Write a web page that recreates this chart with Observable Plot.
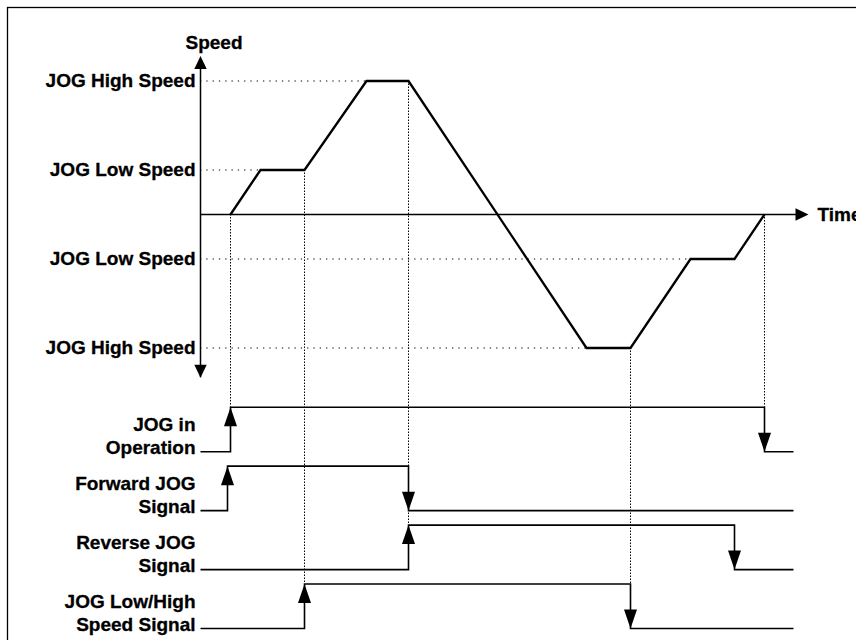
<!DOCTYPE html>
<html>
<head>
<meta charset="utf-8">
<script src="https://cdn.jsdelivr.net/npm/d3@7"></script>
<script src="https://cdn.jsdelivr.net/npm/@observablehq/plot@0.6"></script>
<style>
  html, body { margin: 0; padding: 0; background: #fff; }
  #chart { width: 856px; height: 640px; overflow: hidden; }
</style>
</head>
<body>
<div id="chart"></div>
<script>
// ---- Data ----
// Speed levels (speed units, High = 30, Low = 10)
const levelLabels = ["JOG High Speed", "JOG Low Speed", "JOG Low Speed", "JOG High Speed"];
const levelValues = [30, 10, -10, -30];

// Speed profile (time units, speed units)
const profileT = [30, 60, 104, 166, 208, 386, 430, 490, 534, 564];
const profileV = [0, 10, 10, 30, 30, -30, -30, -10, -10, 0];

// Signals
const signalNames = ["JOG in\nOperation", "Forward JOG\nSignal", "Reverse JOG\nSignal", "JOG Low/High\nSpeed Signal"];
const signalOn  = [30, 27, 208, 104];
const signalOff = [564, 208, 534, 430];
const signalEnd = 593;
const laneTop = -53.3;     // low level of first lane (speed units below zero)
const laneStep = 13.25;    // spacing between lanes
const laneAmp = 10;        // high - low

// Times marked with dotted event lines
const eventTimes = [30, 104, 208, 430, 564];

// Axes extents
const speedAxis = [-36.7, 35.6];
const timeAxisEnd = 608;

// ---- Derived tables ----
const profile = profileT.map((t, i) => ({t, v: profileV[i]}));
const levels = levelValues.map((v, i) => ({label: levelLabels[i], v, reach: profile.find(p => p.v === v).t}));

const laneLow = i => laneTop - laneStep * i;
const laneHigh = i => laneLow(i) + laneAmp;

const signalPts = [];
signalNames.forEach((name, i) => {
  const lo = laneLow(i), hi = laneHigh(i);
  [[0, lo], [signalOn[i], lo], [signalOn[i], hi], [signalOff[i], hi], [signalOff[i], lo], [signalEnd, lo]]
    .forEach(([t, v]) => signalPts.push({lane: i, t, v}));
});
const heads = [];
signalNames.forEach((name, i) => {
  heads.push({t: signalOn[i], v: laneHigh(i), rot: 0});
  heads.push({t: signalOff[i], v: laneLow(i), rot: 180});
});
const labels = signalNames.map((name, i) => ({name, v: laneLow(i)}));

const events = eventTimes.map(t => {
  const lanes = signalNames.map((_, i) => i).filter(i => signalOn[i] === t || signalOff[i] === t);
  return {t, from: profile.find(p => p.t === t).v, to: laneHigh(d3.max(lanes))};
});

const axisHeads = [
  {t: 0, v: speedAxis[1], rot: 0},
  {t: 0, v: speedAxis[0], rot: 180},
  {t: timeAxisEnd, v: 0, rot: 90}
];

// Custom filled arrowheads (tip at origin, pointing up)
const signalHead = {draw(ctx) { ctx.moveTo(0, 0); ctx.lineTo(6.5, 19); ctx.lineTo(-6.5, 19); ctx.closePath(); }};
const axisHead = {draw(ctx) { ctx.moveTo(0, 0); ctx.lineTo(6.2, 13); ctx.lineTo(-6.2, 13); ctx.closePath(); }};

const FONT = "'Liberation Sans', Arial, Helvetica, sans-serif";
const FS = 19;
const txt = {fontSize: FS, fontWeight: "bold", fill: "#000", stroke: "#000", strokeWidth: 0.3};

const chart = Plot.plot({
  width: 856,
  height: 640,
  marginLeft: 7,
  marginTop: 7,
  marginRight: -10,
  marginBottom: -10,
  x: {domain: [0, 564], range: [200, 764], axis: null},
  y: {domain: [-30, 30], range: [347.5, 80.5], axis: null},
  style: {fontFamily: FONT, background: "#fff", color: "#000", overflow: "hidden"},
  marks: [
    Plot.frame({stroke: "#000", strokeWidth: 1.3}),
    // horizontal dotted guides
    Plot.ruleY(levels, {y: "v", x1: 0, x2: "reach", stroke: "#000", strokeWidth: 1, strokeDasharray: "1.3,5"}),
    // vertical dotted event lines
    Plot.ruleX(events, {x: "t", y1: "from", y2: "to", stroke: "#000", strokeWidth: 1, strokeDasharray: "1.5,1.5"}),
    // axes
    Plot.ruleX([0], {y1: speedAxis[0], y2: speedAxis[1] - 3, stroke: "#000", strokeWidth: 1.5}),
    Plot.ruleY([0], {x1: 0, x2: timeAxisEnd - 3, stroke: "#000", strokeWidth: 1.5}),
    Plot.dot(axisHeads, {x: "t", y: "v", rotate: "rot", symbol: axisHead, fill: "#000", stroke: "none"}),
    // speed profile
    Plot.line(profile, {x: "t", y: "v", stroke: "#000", strokeWidth: 2.3, strokeLinejoin: "miter", strokeLinecap: "butt", strokeMiterlimit: 10}),
    // signals
    Plot.line(signalPts, {x: "t", y: "v", z: "lane", stroke: "#000", strokeWidth: 1.6, strokeLinejoin: "miter", strokeLinecap: "butt", strokeMiterlimit: 10}),
    Plot.dot(heads, {x: "t", y: "v", rotate: "rot", symbol: signalHead, fill: "#000", stroke: "none"}),
    // labels
    Plot.text(levels, {x: 0, y: "v", text: "label", textAnchor: "end", lineAnchor: "middle", dx: -5, ...txt}),
    Plot.text(labels, {x: 0, y: "v", text: "name", textAnchor: "end", lineAnchor: "bottom", lineHeight: 1.17, dx: -5, dy: 2, ...txt}),
    Plot.text(["Speed"], {x: 0, y: speedAxis[1], text: d => d, textAnchor: "start", lineAnchor: "bottom", dx: -15, dy: -7, ...txt}),
    Plot.text(["Time"], {x: timeAxisEnd, y: 0, text: d => d, textAnchor: "start", lineAnchor: "middle", dx: 9, ...txt})
  ]
});
document.getElementById("chart").appendChild(chart);
</script>
</body>
</html>
